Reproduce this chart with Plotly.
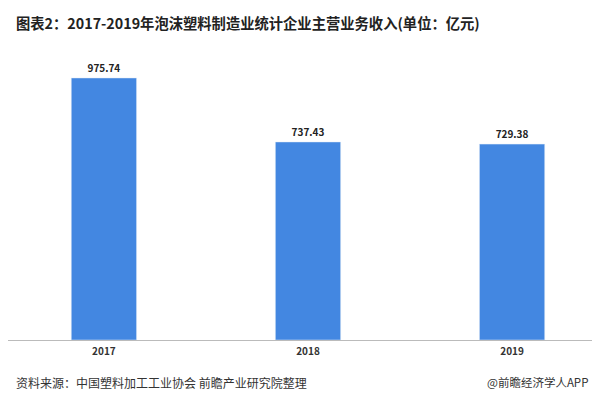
import plotly.graph_objects as go

years = ["2017", "2018", "2019"]
revenue = [975.74, 737.43, 729.38]

fig = go.Figure(go.Bar(
    x=years, y=revenue, width=0.32,
    marker=dict(color="#4387E1"),
    text=[f"<b>{v:.2f}</b>" for v in revenue], textposition="outside",
    textfont=dict(size=10, color="#222", family="Noto Sans CJK SC"),
    cliponaxis=False,
))

fig.update_layout(
    width=600, height=406,
    margin=dict(l=0, r=0, t=32, b=74),
    plot_bgcolor="white", paper_bgcolor="white",
    showlegend=False,
    font=dict(family="Noto Sans CJK SC"),
    xaxis=dict(range=[-0.47, 2.47], showline=True, linecolor="#bbb", linewidth=1,
               ticks="", tickfont=dict(size=10, color="#333"), ticklabelstandoff=2,
               tickvals=years, ticktext=[f"<b>{y}</b>" for y in years]),
    yaxis=dict(range=[0, 1117], visible=False),
    annotations=[
        dict(text="<b>图表2：2017-2019年泡沫塑料制造业统计企业主营业务收入(单位：亿元)</b>",
             xref="paper", yref="paper", x=0, y=1.0, xanchor="left", yanchor="bottom",
             yshift=5, xshift=6, showarrow=False, font=dict(size=14.3, color="#222")),
        dict(text="资料来源：中国塑料加工工业协会 前瞻产业研究院整理",
             xref="paper", yref="paper", x=0, y=0, xanchor="left", yanchor="top",
             yshift=-32, xshift=6, showarrow=False, font=dict(size=12, color="#333")),
        dict(text="@前瞻经济学人APP",
             xref="paper", yref="paper", x=1, y=0, xanchor="right", yanchor="top",
             yshift=-32, xshift=-18, showarrow=False, font=dict(size=11.5, color="#333")),
    ],
)
fig.write_html("out.html")
